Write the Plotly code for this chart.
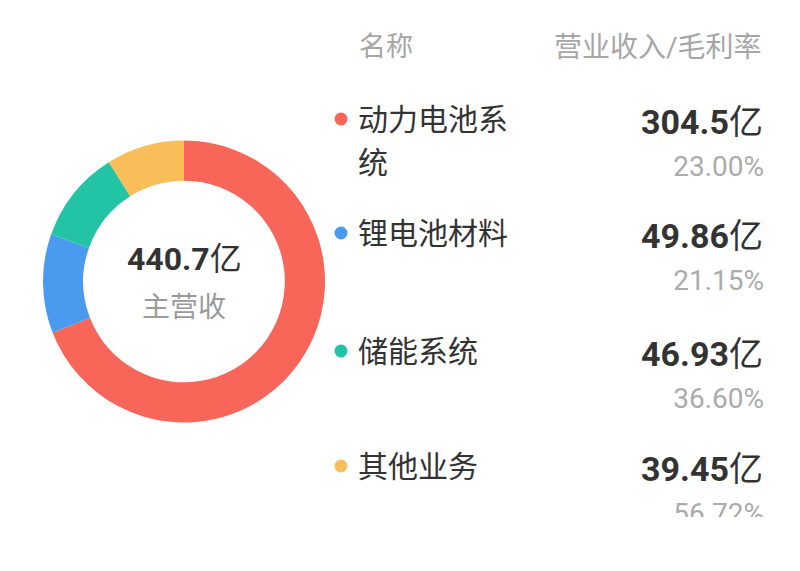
import plotly.graph_objects as go

# Data
names = ["动力电池系统", "锂电池材料", "储能系统", "其他业务"]
revenue = [304.5, 49.86, 46.93, 39.45]          # 亿
margins = [23.00, 21.15, 36.60, 56.72]          # %
colors = ["#F8665A", "#4A9BF0", "#22C4A5", "#F9BD5A"]
header_left = "名称"
header_right = "营业收入/毛利率"
center_label = "主营收"

W, H = 800, 571
FONT = "Roboto, 'Noto Sans CJK SC', sans-serif"

fig = go.Figure()

fig.add_trace(go.Pie(
    values=revenue, labels=names, sort=False, direction="clockwise", rotation=0,
    hole=0.715, marker=dict(colors=colors, line=dict(width=0)),
    textinfo="none", hoverinfo="none", showlegend=False,
    domain=dict(x=[43 / W, 325 / W], y=[(H - 423) / H, (H - 140) / H]),
))

ann = []
def add_text(x, y, text, size, color, anchor):
    ann.append(dict(x=x, y=y, xref="x", yref="y", text=text, showarrow=False,
                    font=dict(size=size, color=color, family=FONT),
                    xanchor=anchor, yanchor="middle"))

# center text
total = sum(revenue)
add_text(184, 259, f"<b>{total:.1f}</b>亿", 32, "#333333", "center")
add_text(184, 307, center_label, 28, "#9a9a9a", "center")
# headers
add_text(357, 47, header_left, 27, "#a6a6a6", "left")
add_text(764, 47, header_right, 28, "#a6a6a6", "right")

row_y = [119, 233, 351, 466]
shapes = []
for i, (n, v, c) in enumerate(zip(names, revenue, colors)):
    y0 = row_y[i]
    shapes.append(dict(type="circle", xref="x", yref="y",
                       x0=341 - 6.5, x1=341 + 6.5, y0=y0 - 6.5, y1=y0 + 6.5,
                       fillcolor=c, line=dict(width=0), layer="above"))
    lines = [n[k:k + 5] for k in range(0, len(n), 5)]
    for j, ln in enumerate(lines):
        add_text(356, y0 + 43 * j, ln, 30, "#333333", "left")
    add_text(765, y0 + 3, f"<b>{v:g}</b>亿", 34, "#333333", "right")

# margin percentages (last one is clipped by the panel bottom)
for i, m in enumerate(margins):
    fig.add_trace(go.Scatter(
        x=[764], y=[row_y[i] + 50], mode="text", text=[f"{m:.2f}%"],
        textposition="middle left", textfont=dict(size=28, color="#ababab", family=FONT),
        hoverinfo="skip", showlegend=False, cliponaxis=False,
    ))

shapes.append(dict(type="rect", xref="x", yref="y", x0=560, x1=800, y0=517, y1=571,
                   fillcolor="white", line=dict(width=0), layer="above"))

fig.update_layout(
    width=W, height=H, margin=dict(l=0, r=0, t=0, b=0),
    paper_bgcolor="white", plot_bgcolor="white",
    xaxis=dict(range=[0, W], visible=False, fixedrange=True, domain=[0, 1]),
    yaxis=dict(range=[H, 0], visible=False, fixedrange=True, domain=[0, 1]),
    annotations=ann, shapes=shapes, showlegend=False,
)

fig.write_html("out.html", config={"displayModeBar": False},
               post_script="document.body.style.margin='0';")
